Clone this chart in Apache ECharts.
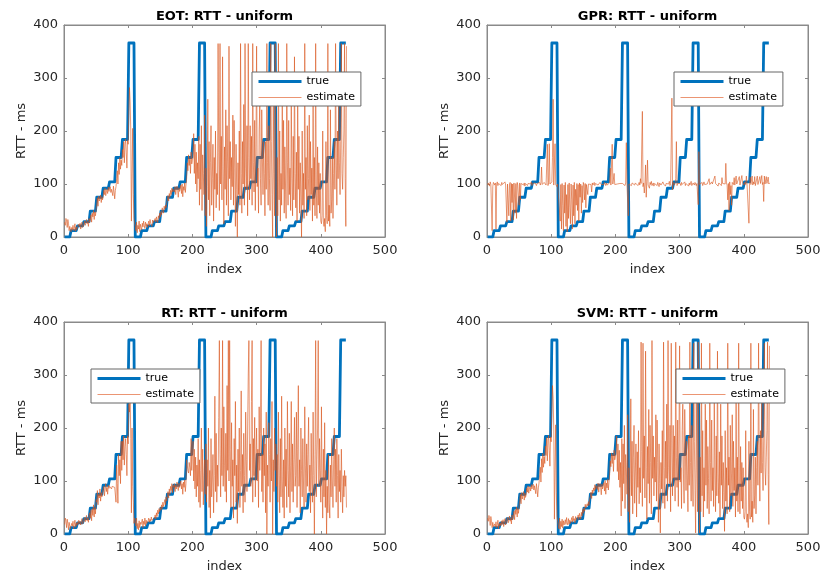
<!DOCTYPE html>
<html>
<head>
<meta charset="utf-8">
<script src="https://cdn.jsdelivr.net/npm/echarts@6/dist/echarts.min.js"></script>
<style>
  html, body { margin: 0; padding: 0; background: #fff; }
  #main { width: 827px; height: 578px; }
</style>
</head>
<body>
<div id="main"></div>
<script type="text/javascript">
// step levels of the true RTT (one step = 10 samples, 11 steps per period, 4 periods)
var stepLevels = [0, 12, 21, 29, 49, 75, 92, 104, 150, 184, 366];
var stepLen = 10;
var periods = 4;

var xTicks = [0, 100, 200, 300, 400, 500];
var yTicks = [0, 100, 200, 300, 400];

var eotEst = [
  28, 22, 35, 30, 18, 33, 26, 12, 20, 15,
  10, 18, 14, 22, 12, 16, 25, 11, 19, 14,
  20, 17, 24, 19, 26, 15, 22, 28, 18, 21,
  24, 30, 22, 27, 33, 25, 29, 20, 35, 28,
  32, 42, 28, 45, 38, 50, 33, 47, 40, 52,
  62, 74, 58, 77, 68, 72, 79, 65, 76, 70,
  75, 88, 80, 92, 78, 85, 90, 82, 94, 86,
  88, 95, 84, 90, 92, 78, 96, 85, 72, 88,
  95, 110, 125, 100, 140, 118, 150, 128, 145, 135,
  165, 150, 180, 140, 175, 185, 160, 130, 182, 175,
  240, 282, 255, 200, 30, 120, 205, 80, 35, 25,
  20, 12, 28, 8, 22, 15, 30, 10, 24, 18,
  14, 26, 19, 30, 22, 16, 28, 20, 25, 18,
  24, 30, 21, 33, 26, 28, 20, 32, 27, 24,
  30, 35, 28, 38, 32, 27, 40, 35, 45, 38,
  48, 42, 55, 50, 45, 58, 52, 60, 55, 65,
  70, 78, 68, 82, 75, 88, 80, 92, 85, 90,
  92, 85, 95, 80, 90, 96, 88, 75, 93, 86,
  90, 98, 82, 100, 76, 95, 88, 102, 84, 98,
  110, 140, 125, 155, 135, 148, 120, 160, 138, 145,
  150, 195, 120, 175, 100, 160, 85, 140, 110, 190,
  60, 175, 90, 210, 50, 155, 120, 80, 230, 40,
  130, 20, 95, 260, 70, 180, 40, 140, 210, 60,
  110, 175, 30, 150, 90, 200, 55, 120, 80, 365,
  160, 50, 365, 100, 190, 70, 340, 130, 25, 170,
  90, 240, 60, 210, 130, 40, 360, 110, 180, 70,
  150, 95, 230, 60, 220, 130, 20, 175, 90, 0,
  140, 80, 200, 60, 365, 120, 45, 180, 100, 250,
  60, 365, 130, 90, 210, 40, 365, 150, 70, 210,
  110, 190, 60, 365, 140, 85, 220, 50, 170, 360,
  95, 130, 45, 200, 250, 110, 60, 240, 150, 80,
  180, 120, 40, 180, 90, 365, 140, 60, 210, 110,
  50, 365, 180, 80, 0, 260, 120, 40, 365, 90,
  0, 150, 40, 365, 70, 200, 30, 120, 60, 250,
  90, 220, 45, 170, 100, 35, 365, 140, 60, 220,
  80, 130, 50, 260, 110, 40, 190, 70, 340, 120,
  55, 160, 30, 250, 90, 190, 45, 140, 75, 0,
  200, 60, 120, 35, 365, 90, 150, 40, 210, 70,
  110, 230, 50, 180, 80, 130, 30, 260, 60, 150,
  40, 365, 90, 35, 170, 60, 140, 45, 120, 30,
  25, 40, 200, 30, 20, 35, 10, 180, 40, 25,
  365, 30, 60, 20, 240, 45, 70, 150, 35, 120,
  180, 90, 365, 150, 60, 200, 110, 260, 140, 80,
  180, 365, 120, 90, 150, 200, 365, 110, 20, 360
];

var gprEst = [
  98, 102, 100, 96, 104, 99, 101, 12, 95, 103,
  100, 98, 102, 15, 100, 104, 97, 101, 99, 103,
  101, 97, 103, 99, 102, 100, 96, 104, 98, 101,
  28, 100, 102, 40, 98, 103, 30, 101, 65, 100,
  32, 102, 99, 45, 101, 35, 103, 98, 100, 60,
  102, 70, 101, 99, 104, 100, 98, 102, 96, 101,
  100, 103, 97, 101, 99, 102, 98, 100, 104, 97,
  101, 99, 103, 98, 102, 100, 97, 101, 104, 99,
  100, 103, 98, 102, 132, 99, 101, 97, 103, 100,
  102, 98, 101, 175, 97, 103, 176, 100, 99, 102,
  104, 150, 260, 98, 101, 176, 99, 102, 95, 100,
  100, 97, 102, 30, 99, 15, 101, 60, 12, 98,
  45, 103, 20, 80, 10, 99, 35, 102, 55, 25,
  100, 70, 15, 98, 40, 103, 25, 90, 60, 101,
  50, 99, 30, 102, 75, 100, 45, 97, 65, 103,
  98, 70, 101, 55, 99, 102, 80, 100, 97, 103,
  101, 99, 85, 102, 98, 100, 103, 97, 101, 99,
  100, 102, 98, 101, 97, 103, 100, 99, 102, 98,
  101, 99, 103, 100, 97, 102, 98, 101, 100, 99,
  102, 130, 98, 101, 175, 100, 103, 120, 99, 101,
  98, 102, 100, 99, 103, 97, 101, 100, 102, 99,
  101, 98, 103, 100, 97, 102, 178, 99, 101, 40,
  100, 98, 103, 101, 97, 102, 99, 104, 100, 98,
  102, 99, 101, 105, 97, 100, 103, 98, 110, 101,
  99, 237, 95, 102, 83, 100, 136, 75, 104, 145,
  98, 101, 92, 103, 99, 105, 97, 100, 102, 96,
  101, 104, 98, 100, 97, 103, 99, 95, 102, 100,
  98, 101, 97, 104, 100, 99, 103, 96, 101, 99,
  102, 98, 100, 105, 97, 101, 99, 262, 89, 103,
  100, 98, 102, 110, 180, 97, 101, 99, 104, 98,
  101, 97, 103, 99, 100, 102, 98, 104, 97, 101,
  99, 103, 100, 96, 102, 98, 101, 105, 97, 100,
  102, 99, 98, 103, 100, 97, 101, 104, 61, 161,
  99, 102, 98, 101, 103, 97, 100, 104, 99, 101,
  98, 102, 100, 97, 103, 110, 99, 101, 98, 104,
  100, 97, 102, 99, 115, 101, 98, 103, 100, 96,
  102, 99, 104, 100, 97, 112, 101, 98, 103, 99,
  100, 139, 102, 98, 70, 101, 50, 104, 80, 97,
  60, 103, 100, 99, 112, 98, 101, 115, 100, 97,
  103, 100, 114, 98, 101, 99, 116, 102, 100, 98,
  101, 104, 99, 115, 100, 97, 103, 26, 101, 113,
  99, 102, 115, 98, 104, 100, 114, 97, 103, 100,
  115, 99, 102, 98, 114, 101, 100, 116, 99, 103,
  67, 115, 100, 98, 114, 101, 99, 113, 100, 102
];

var rtEst = [
  18, 30, 25, 12, 28, 20, 8, 22, 15, 10,
  12, 20, 15, 24, 10, 18, 26, 13, 21, 16,
  22, 18, 26, 20, 24, 17, 23, 29, 19, 22,
  26, 31, 23, 28, 35, 25, 30, 22, 36, 40,
  30, 45, 25, 48, 35, 55, 32, 50, 38, 65,
  60, 82, 55, 75, 68, 85, 62, 78, 70, 80,
  78, 90, 72, 85, 95, 80, 88, 75, 92, 86,
  90, 88, 92, 85, 90, 88, 92, 90, 88, 90,
  60, 130, 95, 58, 150, 110, 140, 95, 175, 120,
  175, 140, 185, 130, 165, 180, 150, 110, 185, 170,
  245, 230, 270, 180, 40, 200, 90, 60, 20, 30,
  25, 15, 30, 10, 20, 8, 25, 12, 22, 18,
  16, 28, 12, 24, 18, 30, 15, 26, 20, 22,
  25, 30, 22, 28, 24, 32, 26, 29, 23, 27,
  30, 36, 28, 40, 33, 45, 38, 48, 42, 50,
  45, 55, 48, 60, 52, 58, 65, 55, 70, 62,
  72, 80, 68, 85, 75, 90, 82, 95, 78, 92,
  88, 95, 80, 92, 85, 98, 90, 82, 96, 88,
  92, 100, 85, 95, 75, 98, 88, 102, 80, 95,
  140, 130, 120, 115, 135, 125, 110, 180, 120, 150,
  175, 100, 160, 85, 145, 70, 130, 90, 180, 60,
  140, 50, 120, 200, 80, 160, 55, 110, 140, 75,
  170, 60, 140, 90, 200, 50, 120, 30, 180, 70,
  100, 150, 40, 110, 260, 80, 190, 60, 130, 90,
  220, 365, 150, 70, 200, 110, 365, 90, 240, 130,
  80, 190, 60, 280, 120, 365, 100, 365, 160, 50,
  210, 90, 140, 30, 180, 110, 250, 60, 130, 20,
  160, 80, 200, 50, 120, 270, 90, 150, 40, 190,
  110, 60, 230, 140, 80, 200, 300, 365, 120, 170,
  90, 250, 365, 60, 180, 110, 220, 70, 140, 200,
  100, 160, 50, 240, 120, 190, 365, 80, 150, 60,
  200, 110, 170, 40, 230, 0, 130, 90, 210, 150,
  60, 180, 100, 250, 0, 140, 80, 200, 120, 170,
  90, 150, 60, 230, 110, 40, 180, 70, 260, 100,
  50, 140, 30, 200, 90, 160, 50, 250, 120, 70,
  190, 40, 130, 250, 80, 170, 60, 140, 220, 90,
  110, 230, 50, 160, 280, 90, 140, 40, 200, 120,
  70, 180, 100, 50, 240, 130, 60, 170, 90, 150,
  220, 80, 130, 40, 190, 100, 60, 230, 110, 0,
  150, 365, 70, 140, 200, 365, 90, 180, 120, 60,
  240, 100, 30, 160, 70, 210, 50, 120, 0, 90,
  40, 150, 60, 30, 130, 70, 180, 100, 50, 140,
  200, 90, 160, 60, 180, 110, 30, 150, 80, 120,
  60, 160, 90, 40, 110, 70, 120, 90, 110, 50
];

var svmEst = [
  30, 24, 35, 28, 16, 33, 25, 12, 22, 14,
  11, 19, 13, 23, 12, 17, 26, 10, 20, 15,
  21, 16, 25, 18, 27, 14, 23, 29, 17, 22,
  25, 31, 21, 28, 34, 24, 30, 19, 36, 27,
  33, 43, 27, 46, 37, 51, 32, 48, 39, 53,
  63, 75, 57, 78, 66, 73, 80, 64, 77, 69,
  74, 87, 79, 91, 77, 84, 89, 81, 93, 85,
  87, 94, 83, 91, 90, 76, 95, 84, 70, 87,
  96, 112, 126, 98, 142, 116, 152, 126, 146, 133,
  166, 148, 182, 138, 176, 186, 158, 128, 183, 174,
  238, 280, 256, 198, 28, 122, 206, 78, 33, 24,
  22, 10, 30, 9, 24, 14, 28, 11, 25, 17,
  15, 27, 18, 31, 21, 17, 29, 19, 26, 20,
  25, 31, 22, 34, 25, 29, 21, 33, 26, 25,
  31, 36, 27, 39, 33, 28, 41, 34, 46, 39,
  49, 43, 56, 49, 46, 57, 53, 61, 54, 66,
  71, 79, 67, 83, 76, 87, 81, 93, 84, 91,
  93, 84, 96, 79, 91, 95, 87, 74, 94, 85,
  91, 97, 81, 101, 75, 96, 87, 103, 83, 97,
  112, 138, 127, 153, 133, 150, 118, 158, 140, 143,
  152, 185, 118, 170, 102, 158, 88, 135, 34, 180,
  62, 170, 95, 205, 48, 150, 125, 75, 225, 42,
  125, 22, 100, 255, 72, 175, 38, 145, 205, 58,
  115, 170, 32, 155, 88, 195, 57, 125, 78, 362,
  155, 52, 360, 105, 185, 68, 345, 125, 28, 165,
  95, 235, 58, 205, 135, 38, 365, 105, 185, 72,
  145, 98, 225, 62, 215, 135, 22, 170, 95, 2,
  135, 85, 195, 58, 362, 125, 48, 175, 105, 245,
  62, 365, 125, 95, 205, 42, 360, 155, 72, 205,
  105, 185, 62, 362, 145, 88, 215, 52, 175, 355,
  98, 125, 48, 195, 245, 115, 58, 235, 155, 82,
  175, 115, 42, 185, 92, 362, 135, 62, 205, 115,
  52, 360, 175, 82, 2, 255, 125, 42, 362, 95,
  2, 145, 42, 360, 72, 195, 32, 125, 62, 245,
  92, 215, 48, 165, 105, 38, 360, 135, 62, 215,
  82, 125, 52, 255, 115, 42, 185, 72, 345, 115,
  58, 155, 32, 245, 92, 185, 48, 135, 78, 5,
  195, 62, 125, 38, 360, 92, 145, 42, 205, 72,
  115, 225, 52, 175, 82, 125, 32, 255, 62, 145,
  42, 360, 92, 38, 165, 62, 135, 48, 125, 32,
  28, 42, 195, 32, 22, 38, 12, 175, 42, 28,
  360, 32, 62, 22, 235, 48, 72, 145, 38, 125,
  175, 92, 360, 155, 62, 195, 115, 255, 135, 82,
  185, 360, 125, 92, 145, 195, 362, 112, 18, 355
];

var panelTitles = ['EOT: RTT - uniform', 'GPR: RTT - uniform', 'RT: RTT - uniform', 'SVM: RTT - uniform'];
var panelEst = [eotEst, gprEst, rtEst, svmEst];

var chartDom = document.getElementById('main');
var myChart = echarts.init(chartDom, null, { renderer: 'canvas' });

var FONT = 'DejaVu Sans';
var TXT = '#262626';
var AX = '#8a8a8a';

// true staircase, built from the read step levels
var trueData = [];
for (var p = 0; p < periods; p++) {
  for (var s = 0; s < stepLevels.length; s++) {
    for (var k = 0; k < stepLen; k++) {
      trueData.push([trueData.length + 1, stepLevels[s]]);
    }
  }
}

var gridPos = [
  { left: 64, top: 25 },
  { left: 487, top: 25 },
  { left: 64, top: 322 },
  { left: 487, top: 322 }
];
var legendPos = [
  { left: 252, top: 72 },
  { left: 674, top: 72 },
  { left: 91, top: 369 },
  { left: 676, top: 369 }
];

var grids = [], xAxes = [], yAxes = [], series = [], titles = [], legends = [];

for (var i = 0; i < 4; i++) {
  grids.push({
    left: gridPos[i].left, top: gridPos[i].top, width: 321, height: 212,
    show: true, borderColor: AX, borderWidth: 1, backgroundColor: '#fff'
  });
  titles.push({
    text: panelTitles[i],
    left: gridPos[i].left + 160.5,
    top: gridPos[i].top - 15,
    textAlign: 'center',
    padding: 0,
    textStyle: { fontFamily: FONT, fontSize: 13, fontWeight: 'bold', color: '#000' }
  });
  // bottom / left axes carry the labels, top / right only the ticks
  xAxes.push({
    type: 'value', gridIndex: i, min: 0, max: 500, interval: 100, position: 'bottom',
    name: 'index', nameLocation: 'middle', nameGap: 26,
    nameTextStyle: { fontFamily: FONT, fontSize: 13, color: TXT },
    axisLine: { show: true, onZero: false, lineStyle: { color: AX, width: 1 } },
    axisTick: { show: true, inside: true, length: 3, lineStyle: { color: AX } },
    axisLabel: { fontFamily: FONT, fontSize: 13, color: TXT, margin: 7 },
    splitLine: { show: false }
  });
  xAxes.push({
    type: 'value', gridIndex: i, min: 0, max: 500, interval: 100, position: 'top',
    axisLine: { show: true, onZero: false, lineStyle: { color: AX, width: 1 } },
    axisTick: { show: true, inside: true, length: 3, lineStyle: { color: AX } },
    axisLabel: { show: false }, splitLine: { show: false }
  });
  yAxes.push({
    type: 'value', gridIndex: i, min: 0, max: 400, interval: 100, position: 'left',
    name: 'RTT - ms', nameLocation: 'middle', nameGap: 36, nameRotate: 90,
    nameTextStyle: { fontFamily: FONT, fontSize: 13, color: TXT },
    axisLine: { show: true, onZero: false, lineStyle: { color: AX, width: 1 } },
    axisTick: { show: true, inside: true, length: 3, lineStyle: { color: AX } },
    axisLabel: { fontFamily: FONT, fontSize: 13, color: TXT, margin: 6 },
    splitLine: { show: false }
  });
  yAxes.push({
    type: 'value', gridIndex: i, min: 0, max: 400, interval: 100, position: 'right',
    axisLine: { show: true, onZero: false, lineStyle: { color: AX, width: 1 } },
    axisTick: { show: true, inside: true, length: 3, lineStyle: { color: AX } },
    axisLabel: { show: false }, splitLine: { show: false }
  });

  series.push({
    name: 'true', type: 'line', xAxisIndex: 2 * i, yAxisIndex: 2 * i,
    data: trueData, symbol: 'none', z: 2,
    lineStyle: { color: '#0072BD', width: 2.8, join: 'round' },
    itemStyle: { color: '#0072BD' }
  });
  series.push({
    name: 'estimate', type: 'line', xAxisIndex: 2 * i, yAxisIndex: 2 * i,
    data: panelEst[i].map(function (v, j) { return [j + 1, v]; }),
    symbol: 'none', z: 3,
    lineStyle: { color: '#D95319', width: 0.7, opacity: 0.85 },
    itemStyle: { color: '#D95319' }
  });

  legends.push({
    orient: 'vertical',
    left: legendPos[i].left, top: legendPos[i].top,
    padding: [4, 6, 3, 5],
    itemWidth: 43, itemHeight: 10, itemGap: 5,
    backgroundColor: '#fff', borderColor: '#666', borderWidth: 1,
    selectedMode: false,
    textStyle: { fontFamily: FONT, fontSize: 11, color: '#000' },
    data: [
      { name: 'true', itemStyle: { opacity: 0 }, lineStyle: { width: 3, color: '#0072BD' } },
      { name: 'estimate', itemStyle: { opacity: 0 }, lineStyle: { width: 1, color: '#E8825A' } }
    ]
  });
}

var option = {
  animation: false,
  backgroundColor: '#fff',
  title: titles,
  legend: legends,
  grid: grids,
  xAxis: xAxes,
  yAxis: yAxes,
  series: series
};

option && myChart.setOption(option, true);
</script>
</body>
</html>
